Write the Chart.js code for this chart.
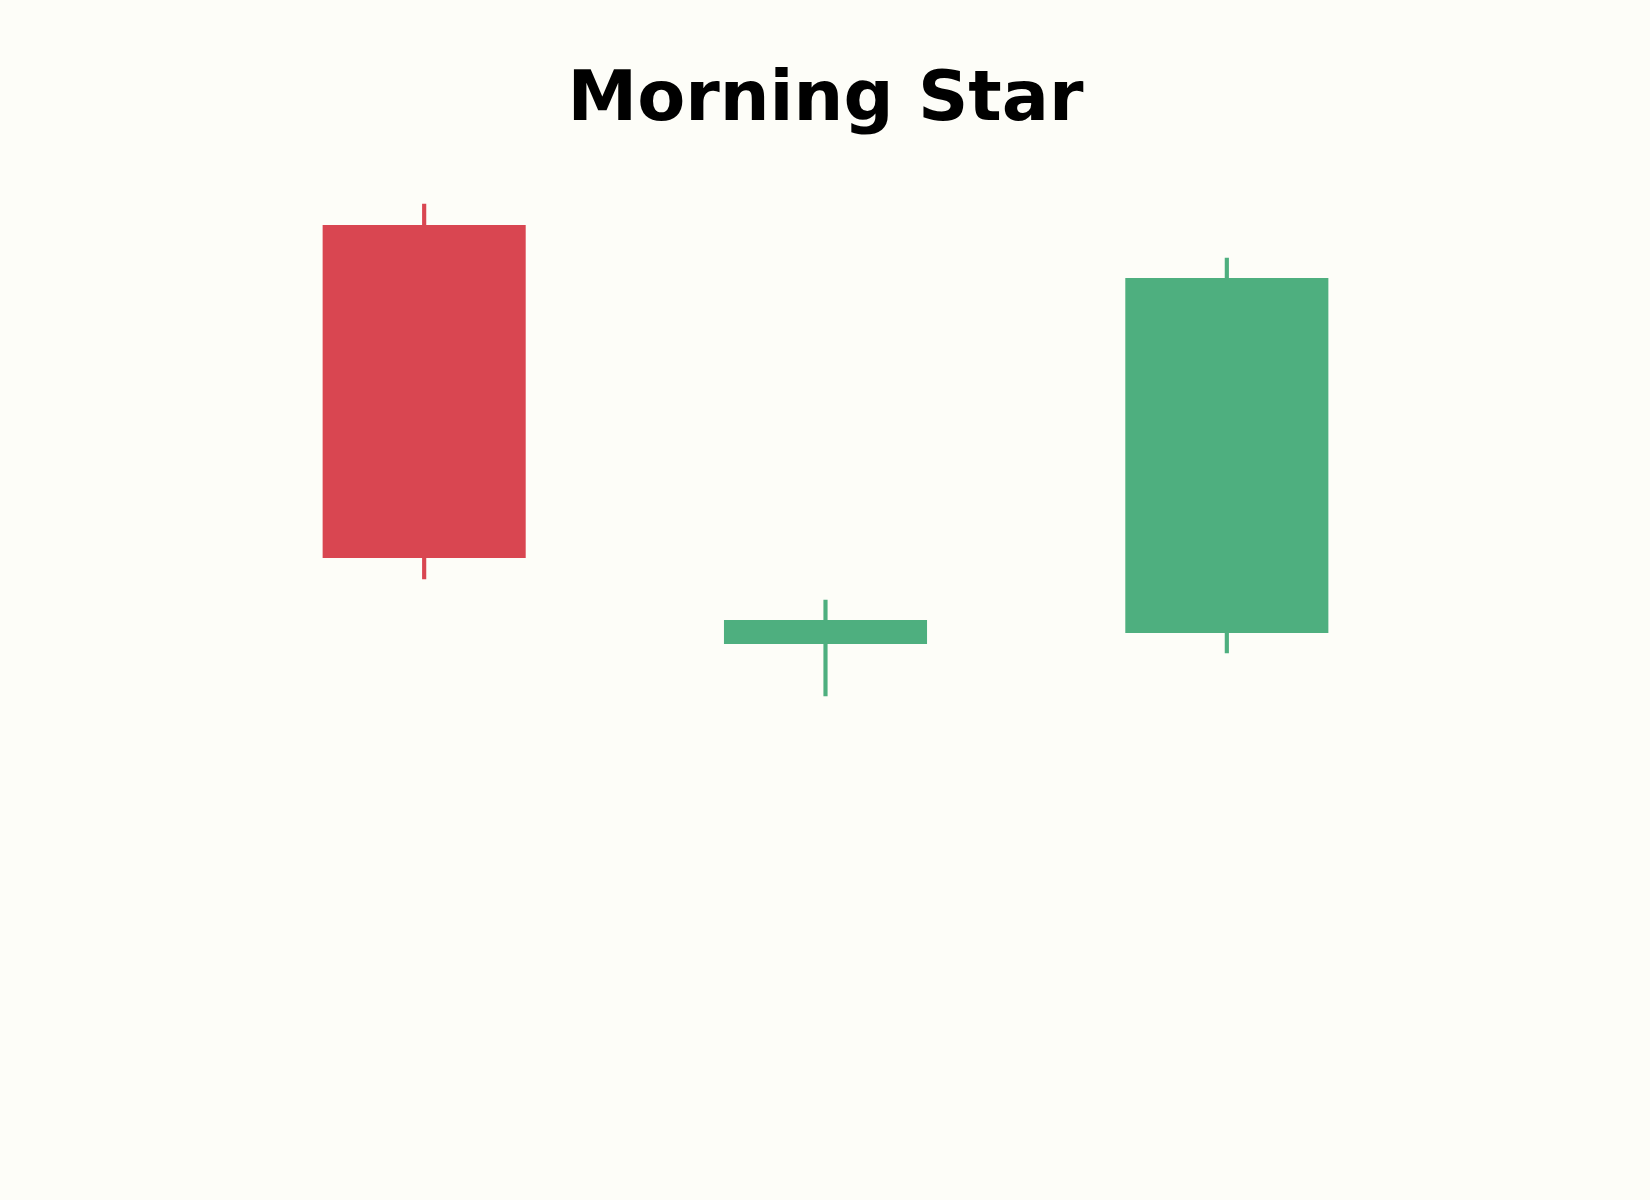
<!DOCTYPE html>
<html>
<head>
<meta charset="utf-8">
<script src="https://cdn.jsdelivr.net/npm/chart.js@4"></script>
<style>
  html, body { margin: 0; padding: 0; background: #fdfdf8; }
  #wrap { width: 1650px; height: 1200px; position: relative; }
</style>
</head>
<body>
<div id="wrap"><canvas id="c"></canvas></div>
<script>
// Candlestick data
const categories = ["Day 1", "Day 2", "Day 3"];
const openValues  = [42.15, 21.2, 21.75];
const highValues  = [43.2, 23.4, 40.5];
const lowValues   = [24.45, 18.6, 20.75];
const closeValues = [25.5, 22.4, 39.5];

const upColor = "#4eaf7f";
const downColor = "#d94651";
const colors = categories.map((_, i) => closeValues[i] >= openValues[i] ? upColor : downColor);

const bodies = categories.map((_, i) => [openValues[i], closeValues[i]]);
const wicks = categories.map((_, i) => [lowValues[i], highValues[i]]);

new Chart(document.getElementById("c"), {
  type: "bar",
  data: {
    labels: categories,
    datasets: [
      {
        label: "Wick",
        data: wicks,
        backgroundColor: colors,
        borderWidth: 0,
        barThickness: 3.5,
        grouped: false,
        order: 2
      },
      {
        label: "Body",
        data: bodies,
        backgroundColor: colors,
        borderWidth: 0,
        categoryPercentage: 1.0,
        barPercentage: 0.506,
        grouped: false,
        order: 1
      }
    ]
  },
  options: {
    responsive: true,
    maintainAspectRatio: false,
    devicePixelRatio: 1,
    animation: false,
    layout: { padding: { left: 223.5, right: 222.5, top: 0, bottom: 132 } },
    plugins: {
      legend: { display: false },
      tooltip: { enabled: false },
      title: {
        display: true,
        text: "Morning Star",
        color: "#000000",
        font: { family: "DejaVu Sans", size: 70, weight: "bold", lineHeight: 1.2 },
        padding: { top: 60, bottom: 0.8 }
      }
    },
    scales: {
      x: { display: false, offset: true, grid: { display: false } },
      y: { display: false, min: 0, max: 46.16, grid: { display: false } }
    }
  },
  plugins: [{
    id: "bg",
    beforeDraw(chart) {
      const ctx = chart.ctx;
      ctx.save();
      ctx.fillStyle = "#fdfdf8";
      ctx.fillRect(0, 0, chart.width, chart.height);
      ctx.restore();
    }
  }]
});
</script>
</body>
</html>
